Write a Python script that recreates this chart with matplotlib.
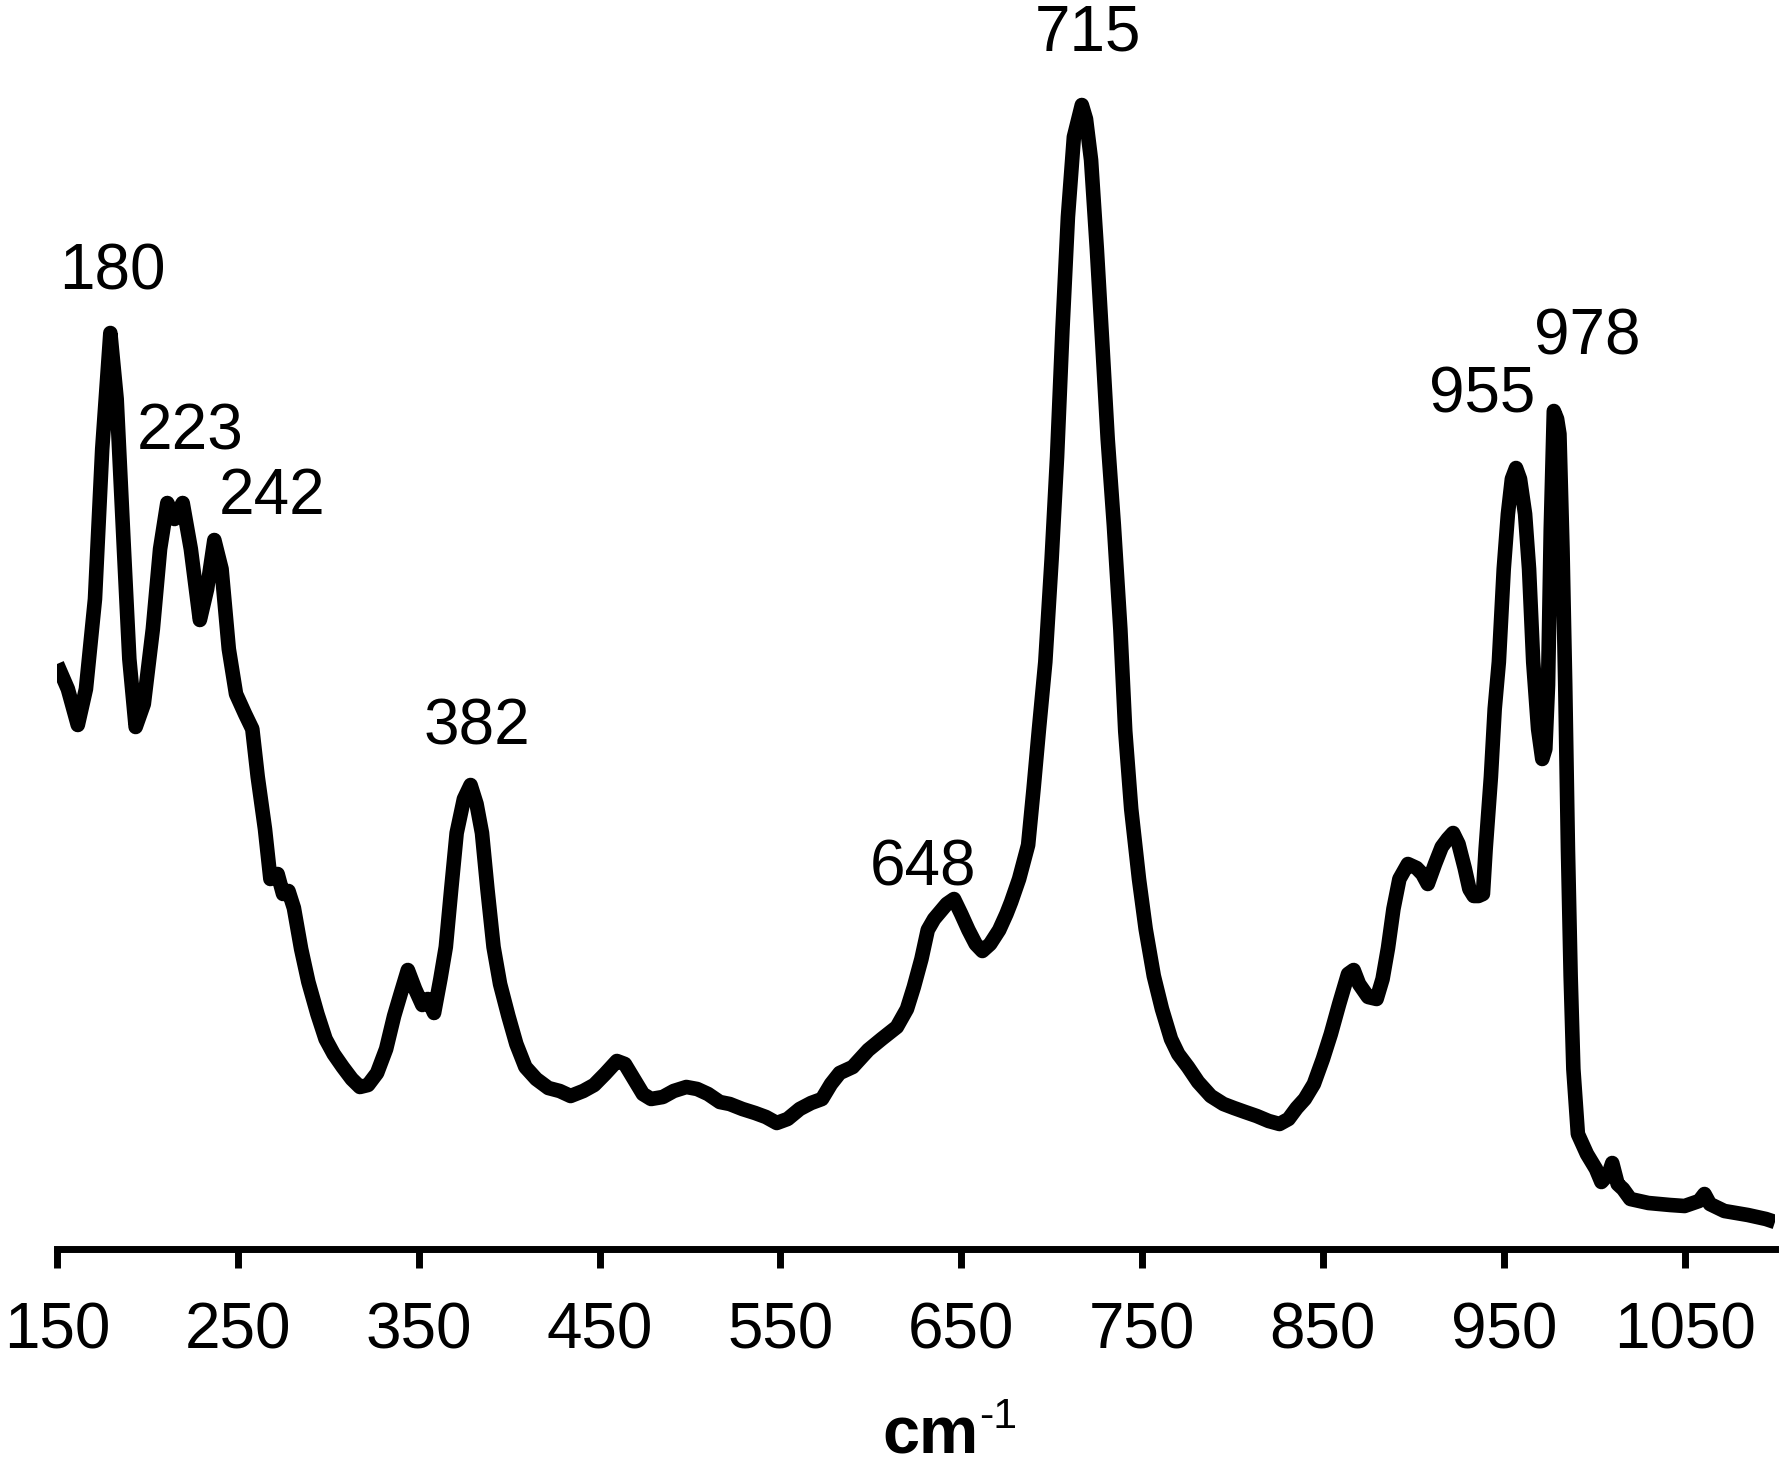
import matplotlib.pyplot as plt

# Raman spectrum (arbitrary intensity units)
wavenumber = [
    150, 156, 161.5, 166, 171, 175, 179.5, 183, 187, 190, 193.5, 198, 203, 207,
    211, 215, 219.5, 224, 229, 233, 237, 241, 245, 249, 254, 258, 261, 265, 268,
    272, 275, 278, 281, 285, 289, 294, 298.5, 303, 308, 313, 317.5, 322, 327,
    332, 336.4, 340, 344, 348, 352, 355, 358.5, 362, 365, 368, 371, 375, 378.7,
    382, 385, 388, 391.4, 395, 399.6, 404, 409, 415, 421.7, 428, 434, 441, 447,
    453, 459.6, 464, 469, 474, 478.5, 485, 491, 498, 504, 510, 516.5, 522, 529,
    536, 542, 548, 554, 560.7, 567, 573, 578, 582.8, 590, 598.6, 606, 614.4,
    620, 623.8, 628, 631.5, 635, 637.8, 642, 646, 650, 654, 658, 661.7, 666,
    671, 675, 677.6, 682, 687, 690, 693, 696.5, 700, 703, 706, 709, 712.3,
    716.7, 719, 721.8, 725, 728, 731, 734.4, 738, 740.7, 744, 748.3, 752, 756.5,
    761, 766, 770, 775.4, 781, 788, 795, 800.8, 807, 813.4, 820, 826, 831,
    835.5, 840, 845, 850, 854.4, 859, 863.9, 867, 870, 875, 879.7, 883, 886,
    889, 892.3, 897, 901.8, 905, 908, 912, 915.7, 919, 922, 925, 928.4, 931,
    933.4, 936, 938.5, 940, 942.9, 945, 947.3, 950, 952.3, 954.5, 956.8, 959,
    961.8, 964, 966.3, 969, 971.3, 973, 974.5, 976, 977.7, 979.5, 980.8, 982.5,
    984, 985.5, 987, 988.5, 991, 996, 1001, 1004, 1008, 1010, 1013, 1016, 1020,
    1030, 1042, 1050, 1058, 1061, 1064, 1072, 1085, 1095, 1100,
]
intensity = [
    585, 560, 524, 560, 650, 800, 916, 850, 700, 590, 522, 545, 620, 700,
    746, 730, 746, 700, 629, 660, 709, 680, 600, 555, 535, 520, 472, 420, 370,
    375, 355, 358, 341, 300, 267, 235, 210, 195, 182, 170, 162, 164, 176,
    200, 233, 255, 279, 260, 244, 250, 236, 270, 302, 360, 416, 450, 464,
    445, 416, 360, 302, 265, 233, 205, 182, 170, 161, 158, 153, 158, 164,
    175, 188, 185, 170, 155, 150, 152, 158, 162, 160, 155, 147, 145, 140,
    136, 132, 126, 130, 140, 146, 150, 165, 176, 182, 199, 210, 222,
    240, 262, 290, 319, 330, 336, 345, 350, 335, 319, 305, 298, 305,
    319, 335, 347, 370, 404, 460, 520, 587, 690, 792, 920, 1032, 1112,
    1144, 1130, 1089, 1000, 906, 810, 724, 620, 518, 440, 370, 320, 273,
    240, 210, 195, 182, 167, 153, 145, 141, 137, 133, 128, 125, 130,
    141, 150, 165, 190, 215, 245, 275, 279, 265, 252, 250, 270, 301,
    340, 370, 385, 381, 375, 365, 385, 402, 410, 416, 405, 381, 360,
    353, 353, 355, 400, 472, 540, 587, 680, 735, 770, 781, 770,
    735, 680, 587, 520, 490, 500, 564, 720, 838, 830, 815, 700,
    564, 400, 273, 180, 115, 95, 80, 67, 75, 86, 65, 60, 50,
    46, 44, 43, 48, 55, 45, 38, 34, 30, 27,
]

peak_labels = ["180", "223", "242", "382", "648", "715", "955", "978"]
label_x = [180.4, 223.6, 269, 382.4, 628.7, 720, 938, 996]
label_y = [977, 817, 752, 522, 381, 1216, 854, 912]

plt.rcParams["font.family"] = ["Liberation Sans", "DejaVu Sans"]

fig = plt.figure(figsize=(17.9, 14.66), dpi=100)
ax = fig.add_axes([57 / 1790, 1 - 1249 / 1466, (1775 - 57) / 1790, 1249 / 1466])

ax.plot(wavenumber, intensity, color="black", linewidth=10.5,
        solid_joinstyle="round", solid_capstyle="butt")

for txt, x, y in zip(peak_labels, label_x, label_y):
    ax.text(x, y, txt, fontsize=46, ha="center", va="center")

ax.set_xlim(150, 1100)
ax.set_ylim(0, 1249)
ax.set_xticks(range(150, 1100, 100))
ax.set_yticks([])
ax.tick_params(axis="x", labelsize=46, length=14, width=5, pad=24,
               direction="out")
for side in ["left", "right", "top"]:
    ax.spines[side].set_visible(False)
ax.spines["bottom"].set_linewidth(5)

# axis title: bold "cm" with superscript "-1"
fig.text(931 / 1790, 1 - 1453 / 1466, "cm", fontsize=48, fontweight="bold",
         ha="center", va="baseline")
fig.text(979 / 1790, 1 - 1428 / 1466, "-1", fontsize=31,
         ha="left", va="baseline")

fig.savefig("out.png", dpi=100)
